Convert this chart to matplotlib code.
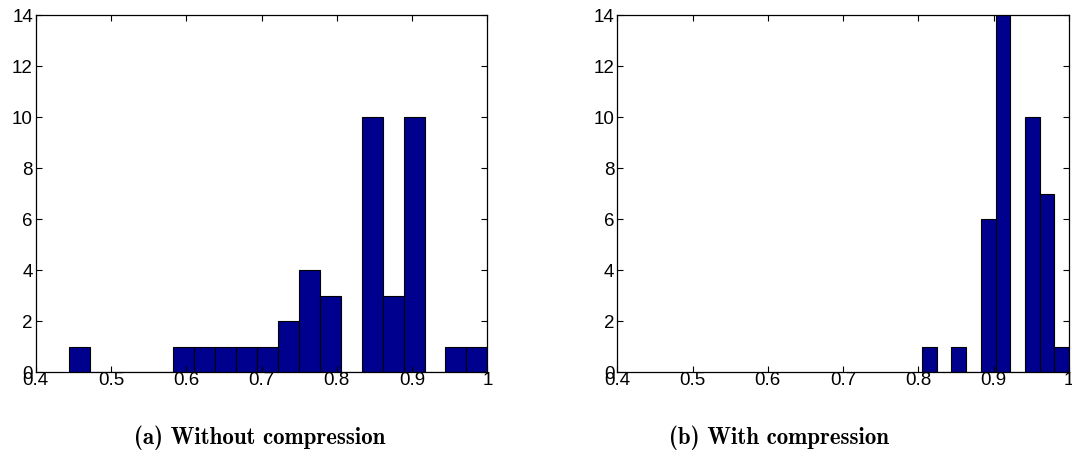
import numpy as np
import matplotlib
matplotlib.use('Agg')
import matplotlib.pyplot as plt

# histogram counts (bins as MATLAB hist would give)
left_lo, left_hi = 0.444, 1.0
left_counts = [1, 0, 0, 0, 0, 1, 1, 1, 1, 1, 2, 4, 3, 0, 10, 3, 10, 0, 1, 1]

right_lo, right_hi = 0.805, 1.0
right_counts = [1, 0, 1, 0, 6, 14, 0, 10, 7, 1]

captions = ['(a) Without compression', '(b) With compression']
x_ticks = [0.4, 0.5, 0.6, 0.7, 0.8, 0.9, 1.0]
x_ticklabels = ['0.4', '0.5', '0.6', '0.7', '0.8', '0.9', '1']
y_ticks = [0, 2, 4, 6, 8, 10, 12, 14]

bar_color = '#00008f'

plt.rcParams['font.family'] = ['Liberation Sans', 'DejaVu Sans']

fig = plt.figure(figsize=(10.72, 4.62), dpi=100)
ax1 = fig.add_axes([0.0333, 0.194, 0.4213, 0.7727])
ax2 = fig.add_axes([0.5758, 0.194, 0.4213, 0.7727])


def draw_hist(ax, lo, hi, counts):
    edges = np.linspace(lo, hi, len(counts) + 1)
    ax.bar(edges[:-1], counts, width=np.diff(edges), align='edge',
           color=bar_color, edgecolor='black', linewidth=0.8)
    ax.set_xlim(0.4, 1.0)
    ax.set_ylim(0, 14)
    ax.set_xticks(x_ticks)
    ax.set_xticklabels(x_ticklabels)
    ax.set_yticks(y_ticks)
    ax.tick_params(direction='in', top=True, right=True, labelsize=13.5,
                   length=4, width=0.8)
    ax.tick_params(axis='x', pad=0)
    ax.tick_params(axis='y', pad=2)
    for s in ax.spines.values():
        s.set_linewidth(0.9)


draw_hist(ax1, left_lo, left_hi, left_counts)
draw_hist(ax2, right_lo, right_hi, right_counts)

fig.text(0.2425, 0.052, captions[0], ha='center', va='center',
         family='cmb10', fontsize=16.5)
fig.text(0.727, 0.052, captions[1], ha='center', va='center',
         family='cmb10', fontsize=16.5)

fig.savefig('out.png', dpi=100)
